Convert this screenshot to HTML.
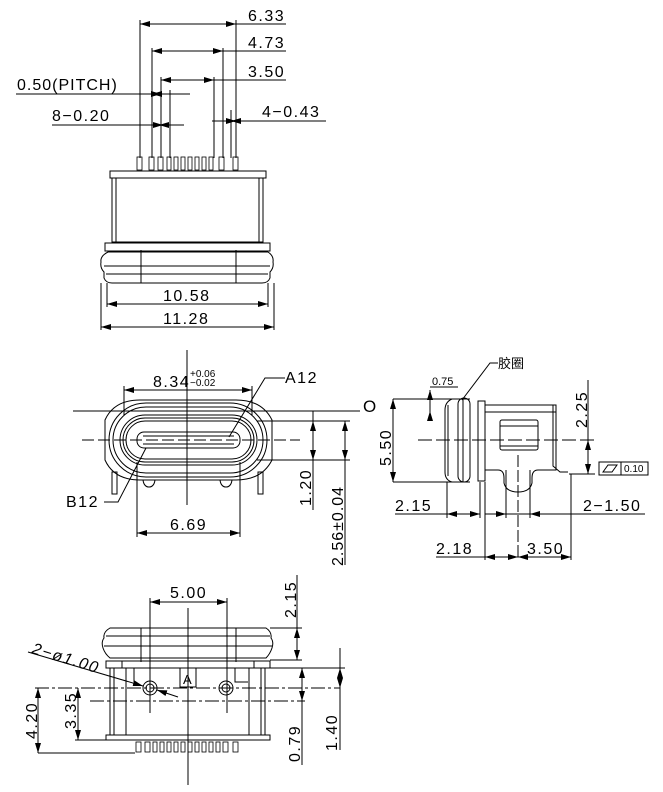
<!DOCTYPE html>
<html><head><meta charset="utf-8"><style>html,body{margin:0;padding:0;background:#fff}svg{display:block}text{font-family:"Liberation Sans","Noto Sans CJK SC",sans-serif;fill:#000}.d{font-size:16px;letter-spacing:1.5px}</style></head><body>
<svg width="663" height="792" viewBox="0 0 663 792" xmlns="http://www.w3.org/2000/svg">
<defs>
<marker id="a" viewBox="0 0 10 6" refX="10" refY="3" markerWidth="10" markerHeight="6" orient="auto-start-reverse" markerUnits="userSpaceOnUse"><path d="M0,0L10,3L0,6z" fill="#000"/></marker>
</defs>
<g stroke="#000" stroke-width="1" fill="none">
<line x1="140" y1="20" x2="140" y2="158"/><line x1="236" y1="20" x2="236" y2="158"/>
<line x1="140" y1="24" x2="236" y2="24" marker-start="url(#a)" marker-end="url(#a)"/><line x1="236" y1="24" x2="286" y2="24"/>
<line x1="152" y1="48" x2="152" y2="158"/><line x1="223" y1="48" x2="223" y2="158"/>
<line x1="152" y1="51" x2="223" y2="51" marker-start="url(#a)" marker-end="url(#a)"/><line x1="223" y1="51" x2="286" y2="51"/>
<line x1="161" y1="77" x2="161" y2="158"/><line x1="214" y1="77" x2="214" y2="158"/>
<line x1="161" y1="80" x2="214" y2="80" marker-start="url(#a)" marker-end="url(#a)"/><line x1="214" y1="80" x2="286" y2="80"/>
<line x1="16" y1="94" x2="190" y2="94"/>
<line x1="152" y1="94" x2="161" y2="94" marker-start="url(#a)" marker-end="url(#a)"/>
<line x1="170" y1="90" x2="170" y2="158"/>
<line x1="52" y1="125" x2="184" y2="125"/>
<line x1="159" y1="125" x2="163" y2="125" marker-start="url(#a)" marker-end="url(#a)"/>
<line x1="212" y1="121" x2="326" y2="121"/>
<line x1="231" y1="121" x2="236" y2="121" marker-start="url(#a)" marker-end="url(#a)"/>
<line x1="231" y1="110" x2="231" y2="158"/>
<g stroke-width="0.8">
<rect x="137" y="157" width="5" height="13"/><rect x="149" y="157" width="5" height="13"/><rect x="158" y="157" width="5" height="13"/><rect x="167" y="157" width="4" height="13"/><rect x="174" y="157" width="4" height="13"/><rect x="181" y="157" width="4" height="13"/><rect x="188" y="157" width="4" height="13"/><rect x="195" y="157" width="4" height="13"/><rect x="202" y="157" width="4" height="13"/><rect x="209" y="157" width="4" height="13"/><rect x="219" y="157" width="5" height="13"/><rect x="233" y="157" width="5" height="13"/>
</g>
<rect x="110" y="171" width="156" height="7"/>
<rect x="112" y="178" width="151" height="64"/>
<line x1="116" y1="178" x2="116" y2="242"/><line x1="259" y1="178" x2="259" y2="242"/>
<rect x="105" y="243" width="165" height="8"/>
<path d="M108,252 H268 Q274,256 273,262 Q274,268 270,272 V278 Q268,283 262,283 H112 Q106,283 104,278 V272 Q100,268 101,262 Q100,256 108,252z"/>
<line x1="104" y1="266" x2="270" y2="266"/><line x1="106" y1="274" x2="268" y2="274"/>
<line x1="141" y1="250" x2="141" y2="283"/><line x1="236" y1="250" x2="236" y2="283"/>
<line x1="107" y1="283" x2="107" y2="307"/><line x1="268" y1="283" x2="268" y2="307"/>
<line x1="101" y1="283" x2="101" y2="330"/><line x1="274" y1="283" x2="274" y2="330"/>
<line x1="107" y1="304" x2="268" y2="304" marker-start="url(#a)" marker-end="url(#a)"/>
<line x1="101" y1="327" x2="274" y2="327" marker-start="url(#a)" marker-end="url(#a)"/>
<line x1="187" y1="350" x2="187" y2="505"/>
<line x1="124" y1="386" x2="124" y2="415"/><line x1="252" y1="386" x2="252" y2="415"/>
<line x1="124" y1="390" x2="252" y2="390" marker-start="url(#a)" marker-end="url(#a)"/>
<path d="M140,400 H236 Q262,400 272,420 V460 Q262,480 236,480 H140 Q114,480 105,460 V420 Q114,400 140,400z"/>
<rect x="109" y="403" width="158" height="74" rx="37"/>
<rect x="113" y="407" width="150" height="66" rx="33"/>
<rect x="120" y="415" width="137" height="50" rx="25"/>
<rect x="123" y="418" width="131" height="44" rx="22"/>
<rect x="126" y="421" width="125" height="38" rx="19"/>
<rect x="137" y="432" width="103" height="16" rx="7"/>
<line x1="143" y1="436" x2="234" y2="436"/><line x1="143" y1="444" x2="234" y2="444"/>
<line x1="82" y1="440" x2="300" y2="440" stroke-dasharray="12,4"/>
<line x1="73" y1="411" x2="360" y2="411"/>
<rect x="112" y="472" width="5" height="22"/><rect x="258" y="472" width="5" height="22"/>
<path d="M143,480 Q144,487 149,487 Q154,487 155,480"/><path d="M220,480 Q221,487 226,487 Q231,487 232,480"/>
<line x1="137" y1="462" x2="137" y2="537"/><line x1="240" y1="462" x2="240" y2="537"/>
<line x1="137" y1="533" x2="240" y2="533" marker-start="url(#a)" marker-end="url(#a)"/>
<polyline points="229,437 265,378 285,378"/>
<polyline points="104,502 118,502 146,448"/>
<line x1="257" y1="421" x2="350" y2="421"/><line x1="257" y1="460" x2="350" y2="460"/>
<line x1="313" y1="411" x2="313" y2="510"/>
<line x1="313" y1="421" x2="313" y2="460" marker-start="url(#a)" marker-end="url(#a)"/>
<line x1="345" y1="421" x2="345" y2="565"/>
<line x1="345" y1="421" x2="345" y2="460" marker-start="url(#a)" marker-end="url(#a)"/>
<line x1="393" y1="399" x2="460" y2="399"/><line x1="393" y1="482" x2="460" y2="482"/>
<line x1="393" y1="399" x2="393" y2="482" marker-start="url(#a)" marker-end="url(#a)"/>
<line x1="430" y1="387" x2="458" y2="387"/>
<line x1="430" y1="390" x2="430" y2="420"/>
<line x1="430" y1="399" x2="430" y2="390" marker-end="url(#a)"/>
<line x1="430" y1="411" x2="430" y2="420" marker-start="url(#a)"/>
<path d="M470,399 H452 Q445,402 445,410 V472 Q445,480 452,482 H470"/>
<line x1="448" y1="405" x2="448" y2="476"/>
<rect x="458" y="398" width="12" height="84" rx="6"/>
<line x1="463" y1="398" x2="463" y2="482"/>
<rect x="478" y="401" width="7" height="80"/>
<path d="M485,405 H556 V470 H538 Q532,470 532,478 V483 Q530,492 518,492 Q506,492 504,483 V478 Q504,470 498,470 H485"/>
<line x1="485" y1="412" x2="556" y2="412"/>
<path d="M553,405 V466 L560,472 H568"/>
<rect x="500" y="420" width="38" height="30" rx="2"/>
<line x1="500" y1="426" x2="538" y2="426"/><line x1="500" y1="446" x2="538" y2="446"/>
<line x1="418" y1="440" x2="595" y2="440" stroke-dasharray="14,4"/>
<line x1="518" y1="455" x2="518" y2="560" stroke-dasharray="12,3"/>
<line x1="569" y1="474" x2="595" y2="474"/>
<line x1="588" y1="380" x2="588" y2="474"/>
<line x1="588" y1="440" x2="588" y2="474" marker-start="url(#a)" marker-end="url(#a)"/>
<rect x="599" y="462" width="22" height="13"/><rect x="621" y="462" width="27" height="13"/>
<path d="M603,472 L608,465 H617 L612,472z"/>
<polyline points="462,400 490,363 498,363"/>
<line x1="447" y1="482" x2="447" y2="518"/><line x1="480" y1="482" x2="480" y2="518"/>
<line x1="395" y1="514" x2="447" y2="514"/>
<line x1="447" y1="514" x2="480" y2="514" marker-start="url(#a)" marker-end="url(#a)"/>
<line x1="485" y1="482" x2="485" y2="560"/><line x1="571" y1="474" x2="571" y2="560"/>
<line x1="506" y1="470" x2="506" y2="518"/><line x1="530" y1="470" x2="530" y2="518"/>
<line x1="485" y1="514" x2="645" y2="514"/>
<line x1="485" y1="514" x2="506" y2="514" marker-end="url(#a)"/><line x1="550" y1="514" x2="530" y2="514" marker-end="url(#a)"/>
<line x1="436" y1="557" x2="485" y2="557"/>
<line x1="485" y1="557" x2="518" y2="557" marker-start="url(#a)" marker-end="url(#a)"/>
<line x1="518" y1="557" x2="571" y2="557" marker-start="url(#a)" marker-end="url(#a)"/>
<line x1="150" y1="598" x2="150" y2="713"/><line x1="227" y1="598" x2="227" y2="713"/>
<line x1="150" y1="602" x2="227" y2="602" marker-start="url(#a)" marker-end="url(#a)"/>
<line x1="188" y1="608" x2="188" y2="785"/>
<path d="M110,628 H266 Q272,632 271,638 Q274,642 272,648 Q270,654 266,658 H110 Q105,654 103,648 Q101,642 104,638 Q103,632 110,628z"/>
<line x1="106" y1="636" x2="270" y2="636"/><line x1="104" y1="646" x2="272" y2="646"/>
<line x1="141" y1="628" x2="141" y2="662"/><line x1="236" y1="628" x2="236" y2="662"/>
<rect x="106" y="661" width="164" height="7"/><line x1="122" y1="661" x2="122" y2="668"/><line x1="254" y1="661" x2="254" y2="668"/>
<rect x="110" y="668" width="155" height="67"/>
<line x1="126" y1="668" x2="126" y2="735"/><line x1="249" y1="668" x2="249" y2="735"/>
<line x1="114" y1="668" x2="114" y2="735"/><line x1="261" y1="668" x2="261" y2="735"/>
<line x1="134" y1="668" x2="134" y2="682"/><path d="M235,668 V682 H248"/>
<rect x="180" y="668" width="16" height="19"/>
<rect x="106" y="735" width="164" height="5"/>
<g stroke-width="0.8">
<rect x="136" y="742" width="5" height="10"/><rect x="145" y="742" width="5" height="10"/><rect x="153" y="742" width="4" height="10"/><rect x="160" y="742" width="4" height="10"/><rect x="167" y="742" width="4" height="10"/><rect x="174" y="742" width="4" height="10"/><rect x="181" y="742" width="4" height="10"/><rect x="188" y="742" width="4" height="10"/><rect x="195" y="742" width="4" height="10"/><rect x="202" y="742" width="4" height="10"/><rect x="209" y="742" width="4" height="10"/><rect x="216" y="742" width="4" height="10"/><rect x="223" y="742" width="5" height="10"/><rect x="233" y="742" width="5" height="10"/>
</g>
<circle cx="150" cy="688" r="7"/><circle cx="150" cy="688" r="4"/>
<circle cx="226" cy="688" r="7"/><circle cx="226" cy="688" r="4"/>
<line x1="35" y1="688" x2="340" y2="688" stroke-dasharray="14,3,3,3"/>
<line x1="90" y1="701" x2="305" y2="701" stroke-dasharray="14,3,3,3"/>
<line x1="28" y1="652" x2="143" y2="686" marker-end="url(#a)"/><line x1="178" y1="697" x2="157" y2="690" marker-end="url(#a)"/>
<line x1="38" y1="753" x2="135" y2="753"/>
<line x1="38" y1="688" x2="38" y2="753" marker-start="url(#a)" marker-end="url(#a)"/>
<line x1="75" y1="740" x2="110" y2="740"/>
<line x1="78" y1="688" x2="78" y2="740" marker-start="url(#a)" marker-end="url(#a)"/>
<line x1="270" y1="628" x2="302" y2="628"/><line x1="270" y1="660" x2="302" y2="660"/>
<line x1="297" y1="575" x2="297" y2="660"/>
<line x1="297" y1="628" x2="297" y2="660" marker-start="url(#a)" marker-end="url(#a)"/>
<line x1="270" y1="668" x2="345" y2="668"/>
<line x1="302" y1="668" x2="302" y2="765"/>
<line x1="302" y1="668" x2="302" y2="701" marker-start="url(#a)" marker-end="url(#a)"/>
<line x1="340" y1="648" x2="340" y2="750"/>
<line x1="340" y1="668" x2="340" y2="688" marker-start="url(#a)" marker-end="url(#a)"/>
</g>
<g class="d">
<text x="248" y="21">6.33</text>
<text x="248" y="48">4.73</text>
<text x="248" y="77">3.50</text>
<text x="17" y="90" style="letter-spacing:1px">0.50(PITCH)</text>
<text x="52" y="121">8−0.20</text>
<text x="262" y="117">4−0.43</text>
<text x="163" y="301">10.58</text>
<text x="163" y="324">11.28</text>
<text x="153" y="387">8.34</text>
<text x="285" y="383">A12</text>
<text x="66" y="507">B12</text>
<text x="170" y="530">6.69</text>
<text x="395" y="511">2.15</text>
<text x="583" y="511">2−1.50</text>
<text x="436" y="554">2.18</text>
<text x="527" y="554">3.50</text>
<text x="170" y="598">5.00</text>
<text x="363" y="412" font-size="17">O</text>
<text transform="translate(311,506) rotate(-90)">1.20</text>
<text transform="translate(343,566) rotate(-90)" style="letter-spacing:1px">2.56±0.04</text>
<text transform="translate(391,466) rotate(-90)">5.50</text>
<text transform="translate(587,428) rotate(-90)">2.25</text>
<text transform="translate(296,618) rotate(-90)">2.15</text>
<text transform="translate(37,739) rotate(-90)">4.20</text>
<text transform="translate(76,729) rotate(-90)">3.35</text>
<text transform="translate(300,762) rotate(-90)">0.79</text>
<text transform="translate(337,751) rotate(-90)">1.40</text>
<text transform="translate(31,653) rotate(17)" font-style="italic">2−ø1.00</text>
</g>
<text x="190" y="377" font-size="10">+0.06</text>
<text x="190" y="386" font-size="10">−0.02</text>
<text x="432" y="385" font-size="11">0.75</text>
<text x="624" y="472" font-size="10">0.10</text>
<text x="498" y="368" font-size="13">胶圈</text>
<text x="183" y="684" font-size="13">A</text>
</svg>
</body></html>
